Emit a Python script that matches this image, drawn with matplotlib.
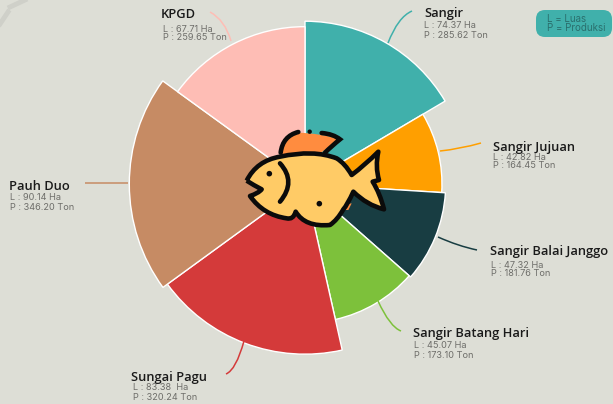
import numpy as np
import matplotlib
matplotlib.use('Agg')
import matplotlib.pyplot as plt
from matplotlib.path import Path
from matplotlib.patches import PathPatch, FancyBboxPatch, Circle

# data
kecamatan = ['Sangir', 'Sangir Jujuan', 'Sangir Balai Janggo', 'Sangir Batang Hari',
             'Sungai Pagu', 'Pauh Duo', 'KPGD']
luas = [74.37, 42.82, 47.32, 45.07, 83.38, 90.14, 67.71]
produksi = ['285.62', '164.45', '181.76', '173.10', '320.24', '346.20', '259.65']
luas_text = ['74.37', '42.82', '47.32', '45.07', '83.38 ', '90.14', '67.71']
warna = ['#40B0AB', '#FF9F00', '#183D42', '#7DC13B', '#D43A3A', '#C68B64', '#FEBDB5']

BG = '#DDDED6'
W, H = 613, 404
CX, CY, R = 305, 184, 180
rmin, rmax = -124.6, 95.4

fig = plt.figure(figsize=(W / 100, H / 100), dpi=100, facecolor=BG)

# rose pie, angle and radius both follow luas
ax = fig.add_axes([(CX - R) / W, (H - CY - R) / H, 2 * R / W, 2 * R / H], polar=True)
ax.patch.set_alpha(0)
ax.set_theta_zero_location('N')
ax.set_theta_direction(-1)
lebar = np.array(luas) / sum(luas) * 2 * np.pi
mulai = np.concatenate([[0], np.cumsum(lebar)[:-1]])
ax.bar(mulai, np.array(luas) - rmin, width=lebar, bottom=rmin, align='edge',
       color=warna, edgecolor='white', linewidth=1)
ax.set_ylim(rmin, rmax)
ax.axis('off')

# overlay in pixel coords for labels, leaders and the fish
ov = fig.add_axes([0, 0, 1, 1])
ov.set_xlim(0, W)
ov.set_ylim(H, 0)
ov.axis('off')
ov.patch.set_alpha(0)

# faint mark in the corner
ov.plot([0, 8], [24, 12], color='#CFD0C9', lw=3.5)
ov.plot([10, 25], [7, 0], color='#CFD0C9', lw=3.5)

# leader lines (start, control, end)
leader = [((388, 43), (398, 17), (412, 11)),
          ((440, 151), (460, 149), (481, 143)),
          ((438, 237), (458, 246), (477, 250)),
          ((378, 301), (390, 327), (401, 331)),
          ((244, 341), (236, 370), (226, 374)),
          ((128, 183), (105, 183), (85, 183)),
          ((231, 41), (225, 20), (210, 12))]
for pts, c in zip(leader, warna):
    ov.add_patch(PathPatch(Path(pts, [Path.MOVETO, Path.CURVE3, Path.CURVE3]),
                           fc='none', ec=c, lw=1.1))

# label positions: x title, y title, x detail, y L, y P
posisi = [(424, 14, 424, 26, 35),
          (493, 147, 493, 157, 166),
          (490, 252, 491, 265, 274),
          (413, 334, 414, 345, 355),
          (131, 377, 133, 388, 397),
          (9, 186, 10, 197, 207),
          (161, 14, 163, 29, 38)]
for nama, l, p, (xt, yt, xd, yl, yp) in zip(kecamatan, luas_text, produksi, posisi):
    ov.text(xt, yt, nama, fontsize=9.3, family='Open Sans', fontweight='semibold',
            color='#1A1A1A', va='center', ha='left')
    ov.text(xd, yl, 'L : ' + l + ' Ha', fontsize=6.6, family='Inter', color='#6E6E6A',
            va='center', ha='left')
    ov.text(xd, yp, 'P : ' + p + ' Ton', fontsize=6.6, family='Inter', color='#6E6E6A',
            va='center', ha='left')

# legend box
ov.add_patch(FancyBboxPatch((536, 10), 76, 27, boxstyle='round,pad=0,rounding_size=9',
                            fc='#40B0AB', ec='none'))
ov.text(547, 19, 'L = Luas', fontsize=7, family='Inter', color='#2A6F6D', va='center')
ov.text(547, 28, 'P = Produksi', fontsize=7, family='Inter', color='#2A6F6D', va='center')


def z(x, y):
    return (230 + x / 3, 110 + y / 3)


M, Q, L, E = Path.MOVETO, Path.CURVE3, Path.LINETO, Path.CLOSEPOLY


def bentuk(langkah):
    verts, codes = [], []
    for item in langkah:
        if len(item) == 2:
            verts.append(z(*item))
            codes.append(L if verts[:-1] else M)
        else:
            verts += [z(item[0], item[1]), z(item[2], item[3])]
            codes += [Q, Q]
    return Path(verts, codes)


GARIS = '#0B0B0B'
KUNING = '#FFCB66'
ORANYE = '#FF8C3F'
lw_ikan = 3.3

sirip_atas = bentuk([(155, 135), (270, 130), (330, 88), (270, 70, 205, 68),
                     (165, 72, 155, 135)])
ov.add_patch(PathPatch(sirip_atas, fc=ORANYE, ec='none', zorder=5))
for p in [[(152, 128), (158, 78, 205, 66)],
          [(275, 69), (310, 72, 330, 88), (305, 108, 285, 128)]]:
    ov.add_patch(PathPatch(bentuk(p), fc='none', ec=GARIS, lw=lw_ikan,
                           capstyle='round', zorder=6))
ov.add_patch(Circle(z(239, 65), 2.2, fc=GARIS, ec='none', zorder=6))

sirip_bawah = bentuk([(335, 285), (365, 280), (355, 300), (335, 300)])
ov.add_patch(PathPatch(sirip_bawah, fc=ORANYE, ec='none', zorder=5))

badan = bentuk([(50, 212), (80, 152, 150, 140), (250, 118, 320, 145),
                (345, 160, 365, 195), (405, 165, 445, 125), (435, 170, 447, 210),
                (428, 215), (450, 250, 462, 298), (410, 285, 370, 245),
                (352, 285, 340, 298), (322, 330, 300, 345), (225, 352, 197, 305),
                (190, 330, 170, 325), (100, 315, 60, 258),
                (85, 250, 95, 238), (70, 225, 50, 212)])
ov.add_patch(PathPatch(badan, fc=KUNING, ec=GARIS, lw=lw_ikan, joinstyle='round', zorder=7))
ov.add_patch(PathPatch(bentuk([(150, 160), (200, 215, 150, 275)]), fc='none', ec=GARIS,
                       lw=lw_ikan, capstyle='round', zorder=8))
ov.add_patch(Circle(z(118, 191), 2.8, fc=GARIS, ec='none', zorder=8))
ov.add_patch(Circle(z(268, 281), 2.8, fc=GARIS, ec='none', zorder=8))

plt.savefig('out.png', dpi=100, facecolor=BG)
